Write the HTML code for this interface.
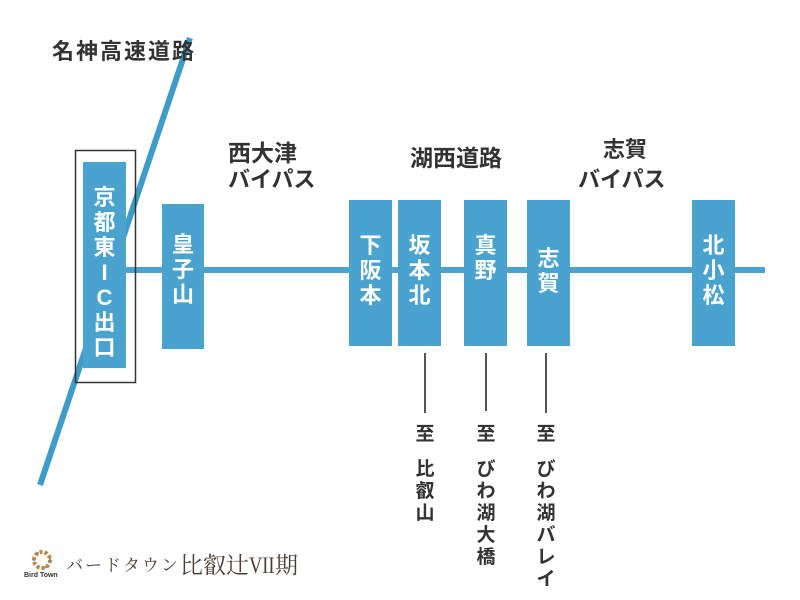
<!DOCTYPE html>
<html><head><meta charset="utf-8"><style>
body{margin:0;width:800px;height:600px;background:#fff;position:relative;overflow:hidden;font-family:"Liberation Sans","Noto Sans CJK JP",sans-serif;}
.b{position:absolute;background:#4aa3cf;color:#fff;font-weight:bold;font-size:22px;text-align:center;line-height:25px;}
.b span{position:absolute;left:0;right:0;}
.t{position:absolute;color:#333;font-weight:bold;font-size:22px;line-height:26px;white-space:nowrap;}
.v{position:absolute;color:#333;font-weight:bold;font-size:19px;text-align:center;width:26px;line-height:22px;}
.l{position:absolute;width:2px;background:#555;}
</style></head><body>
<svg width="800" height="600" style="position:absolute;left:0;top:0">
<line x1="190" y1="38" x2="40" y2="485" stroke="#3f9bc8" stroke-width="6"/>
<line x1="126" y1="270" x2="765" y2="270" stroke="#4aa3cf" stroke-width="6"/>
<rect x="75.5" y="150.5" width="60" height="232" fill="none" stroke="#333" stroke-width="1.5"/>
</svg>
<div class="b" style="left:83px;top:162px;width:43px;height:206px"><span style="top:23px">京<br>都<br>東<br>I<br>C<br>出<br>口</span></div>
<div class="b" style="left:162px;top:204px;width:42px;height:145px"><span style="top:28px">皇<br>子<br>山</span></div>
<div class="b" style="left:349px;top:200px;width:43px;height:146px"><span style="top:33px">下<br>阪<br>本</span></div>
<div class="b" style="left:398px;top:200px;width:43px;height:146px"><span style="top:33px">坂<br>本<br>北</span></div>
<div class="b" style="left:464px;top:200px;width:43px;height:146px"><span style="top:33px">真<br>野</span></div>
<div class="b" style="left:527px;top:200px;width:43px;height:146px"><span style="top:46px">志<br>賀</span></div>
<div class="b" style="left:692px;top:200px;width:43px;height:146px"><span style="top:33px">北<br>小<br>松</span></div>
<div class="t" style="left:52px;top:39px;letter-spacing:2px">名神高速道路</div>
<div class="t" style="left:228px;top:140px;font-size:23px">西大津</div>
<div class="t" style="left:228px;top:167px">バイパス</div>
<div class="t" style="left:410px;top:145px;font-size:23px">湖西道路</div>
<div class="t" style="left:603px;top:137px">志賀</div>
<div class="t" style="left:578px;top:167px">バイパス</div>
<div class="l" style="left:424px;top:353px;height:60px"></div>
<div class="l" style="left:485px;top:353px;height:58px"></div>
<div class="l" style="left:545px;top:353px;height:60px"></div>
<div class="v" style="left:412px;top:424px">至</div>
<div class="v" style="left:412px;top:459px">比<br>叡<br>山</div>
<div class="v" style="left:473px;top:424px">至</div>
<div class="v" style="left:473px;top:459px">び<br>わ<br>湖<br>大<br>橋</div>
<div class="v" style="left:533px;top:424px">至</div>
<div class="v" style="left:533px;top:459px">び<br>わ<br>湖<br>バ<br>レ<br>イ</div>
<svg width="30" height="30" style="position:absolute;left:28px;top:548px">
<circle cx="14" cy="12" r="8" fill="none" stroke="#d9822b" stroke-width="4" stroke-dasharray="3 2"/>
<circle cx="14" cy="12" r="8" fill="none" stroke="#3f9bc8" stroke-width="2" stroke-dasharray="2 6"/>
</svg>
<div style="position:absolute;left:24px;top:572px;font-size:7px;color:#333;font-weight:bold">Bird Town</div>
<div style="position:absolute;left:66px;top:551px;font-family:'Liberation Serif','Noto Serif CJK SC',serif;font-size:17px;color:#4a3d33;letter-spacing:2px">バードタウン</div>
<div style="position:absolute;left:180px;top:547px;font-family:'Liberation Serif','Noto Serif CJK SC',serif;font-size:23px;color:#4a3d33;white-space:nowrap">比叡辻<span style="display:inline-block;transform:scaleX(0.8);transform-origin:left;margin-right:-6px">VII</span>期</div>
</body></html>
